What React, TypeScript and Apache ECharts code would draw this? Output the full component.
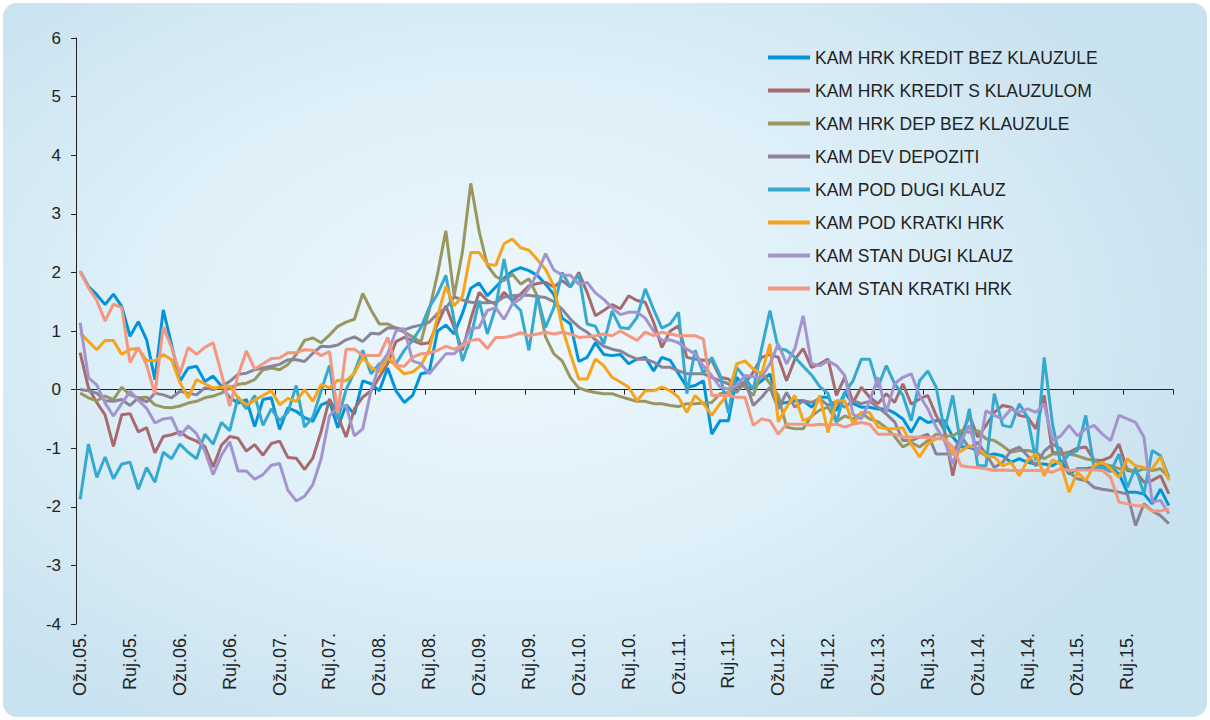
import React, { useEffect, useRef } from "react";
import * as echarts from "echarts";

const MONTHS = ["Sij", "Velj", "Ožu", "Tra", "Svi", "Lip", "Srp", "Kol", "Ruj", "Lis", "Stu", "Pro"];
const START_YEAR = 2005;
const START_MONTH = 2; // Ožujak
const N_MONTHS = 132;

const categories: string[] = [];
for (let k = 0; k < N_MONTHS; k++) {
  const m = (START_MONTH + k) % 12;
  const y = START_YEAR + Math.floor((START_MONTH + k) / 12);
  categories.push(`${MONTHS[m]}.${String(y % 100).padStart(2, "0")}.`);
}

const SERIES_NAMES = [
  "KAM HRK KREDIT BEZ KLAUZULE",
  "KAM HRK KREDIT S KLAUZULOM",
  "KAM HRK DEP BEZ KLAUZULE",
  "KAM DEV DEPOZITI",
  "KAM POD DUGI KLAUZ",
  "KAM POD KRATKI HRK",
  "KAM STAN DUGI KLAUZ",
  "KAM STAN KRATKI HRK",
];

const kreditBez = [
  2.02, 1.76, 1.62, 1.45, 1.63, 1.42, 0.91, 1.16, 0.85, 0.17,
  1.36, 0.77, 0.14, 0.37, 0.40, 0.14, 0.23, 0.06, -0.14, -0.23,
  -0.17, -0.63, -0.17, -0.14, -0.68, -0.31, -0.37, -0.48, -0.54, -0.26,
  -0.2, -0.65, -0.26, -0.42, 0.15, 0.1, -0.02, 0.37, -0.02, -0.22,
  -0.1, 0.27, 0.3, 1.0, 1.1, 0.95, 1.3, 1.73, 1.82, 1.6,
  1.75, 1.9, 2.02, 2.08, 2.03, 1.95, 1.8, 1.62, 1.22, 1.12,
  0.48, 0.55, 0.8, 0.6, 0.58, 0.6, 0.44, 0.52, 0.55, 0.32,
  0.55, 0.5, 0.27, 0.04, 0.07, 0.15, -0.76, -0.53, -0.53, 0.21,
  0.04, 0.04, 0.15, 0.27, -0.24, -0.22, -0.19, -0.19, -0.3, -0.13,
  -0.13, -0.36, -0.05, -0.24, -0.3, -0.3, -0.33, -0.33, -0.4, -0.5,
  -0.73, -0.47, -0.56, -0.53, -0.53, -0.81, -0.98, -0.98, -1.04, -1.13,
  -1.1, -1.13, -1.24, -1.18, -1.24, -1.27, -1.27, -1.3, -1.21, -1.44,
  -1.35, -1.35, -1.33, -1.3, -1.33, -1.44, -1.75, -1.75, -1.78, -1.95,
  -1.7, -1.98,
];

const kreditS = [
  0.63, 0.03, -0.22, -0.43, -0.97, -0.43, -0.41, -0.72, -0.65, -1.08,
  -0.8, -0.77, -0.72, -0.82, -0.88, -0.97, -1.32, -0.95, -0.8, -0.83,
  -1.05, -0.94, -1.12, -0.92, -0.88, -1.16, -1.17, -1.36, -1.17, -0.71,
  -0.16, -0.45, -0.81, -0.33, -0.13, -0.02, 0.21, 0.44, 0.82, 0.89,
  0.84, 0.78, 0.8, 1.12, 1.43, 1.06, 0.67, 1.2, 1.66, 1.52,
  1.46, 1.66, 1.52, 1.63, 1.77, 1.81, 1.83, 1.75, 1.86, 1.75,
  2.0, 1.66, 1.26, 1.35, 1.45, 1.38, 1.6, 1.52, 1.49, 1.15,
  0.72, 1.0, 1.09, 0.55, 0.52, 0.5, 0.5, 0.21, 0.18, 0.04,
  0.1, 0.3, 0.55, 0.6, 0.55, 0.15, 0.52, 0.7, 0.38, 0.44,
  0.52, -0.1, 0.21, -0.22, 0.04, -0.13, -0.24, -0.07, -0.22, 0.1,
  -0.25, -0.16, -0.1, -0.44, -0.7, -1.47, -0.79, -0.44, -0.81, -0.61,
  -0.39, -0.27, -0.3, -0.44, -0.47, -0.67, -0.1, -1.07, -1.1, -1.07,
  -1.0, -0.98, -1.2, -1.21, -1.15, -0.93, -1.38, -1.4, -1.58, -1.55,
  -1.47, -1.78,
];

const depBez = [
  -0.06, -0.14, -0.19, -0.11, -0.17, 0.04, -0.09, -0.14, -0.13, -0.26,
  -0.3, -0.31, -0.28, -0.23, -0.2, -0.14, -0.11, -0.06, 0.03, 0.09,
  0.11, 0.17, 0.34, 0.37, 0.34, 0.43, 0.6, 0.84, 0.88, 0.8,
  0.93, 1.08, 1.15, 1.2, 1.64, 1.36, 1.12, 1.12, 1.05, 0.98,
  0.9, 0.81, 1.35, 1.97, 2.71, 1.6, 2.35, 3.52, 2.71, 2.12,
  1.93, 1.86, 1.97, 1.8, 1.89, 1.6, 0.9, 0.61, 0.49, 0.2,
  0.03, -0.02, -0.05, -0.07, -0.07, -0.12, -0.16, -0.2, -0.2, -0.24,
  -0.24, -0.27, -0.29, -0.24, -0.24, -0.23, -0.22, -0.07, -0.05, 0.1,
  0.05, -0.1, 0.3, 0.1, -0.1, -0.64, -0.67, -0.67, -0.45, -0.35,
  -0.3, -0.55, -0.45, -0.5, -0.4, -0.5, -0.55, -0.65, -0.8, -0.98,
  -0.9, -0.98, -0.87, -0.76, -0.79, -0.79, -0.7, -0.73, -0.7, -0.84,
  -0.87, -0.96, -1.07, -1.04, -1.04, -1.07, -1.18, -1.1, -1.1, -1.1,
  -1.13, -1.18, -1.21, -1.27, -1.3, -1.35, -1.35, -1.41, -1.35, -1.38,
  -1.35, -1.5,
];

const devDepoziti = [
  0, -0.02, -0.06, -0.19, -0.2, -0.17, -0.27, -0.14, -0.21, -0.06,
  -0.09, -0.14, -0.03, -0.06, -0.09, 0.03, 0, 0.06, 0.14, 0.26,
  0.28, 0.34, 0.37, 0.4, 0.43, 0.51, 0.51, 0.48, 0.62, 0.74,
  0.73, 0.76, 0.85, 0.9, 0.82, 0.96, 0.95, 1.05, 1.05, 1.02,
  1.07, 1.1, 1.15, 1.3, 1.39, 1.58, 1.53, 1.49, 1.48, 1.48,
  1.49, 1.58, 1.6, 1.61, 1.61, 1.59, 1.57, 1.5, 1.37, 1.2,
  1.07, 0.98, 0.85, 0.74, 0.69, 0.66, 0.58, 0.52, 0.52, 0.47,
  0.38, 0.38, 0.32, 0.27, 0.27, 0.27, 0.21, 0.15, 0.1, -0.05,
  0.15, -0.27, -0.13, 0.04, -0.33, -0.05, -0.3, -0.19, -0.22, -0.16,
  -0.27, -0.2, -0.3, -0.19, -0.24, -0.2, -0.3, -0.42, -0.55, -0.87,
  -0.87, -0.81, -0.76, -1.1, -1.1, -1.1, -0.8, -1.0, -0.9, -1.1,
  -1.33, -1.24, -1.04, -0.98, -1.13, -1.3, -1.05, -0.93, -1.01, -1.41,
  -1.52, -1.55, -1.67, -1.7, -1.72, -1.75, -1.78, -2.32, -1.95, -2.07,
  -2.15, -2.29,
];

const podDugi = [
  -1.87, -0.93, -1.5, -1.15, -1.52, -1.27, -1.24, -1.7, -1.33, -1.58,
  -1.07, -1.18, -0.93, -1.07, -1.18, -0.76, -0.93, -0.56, -0.7, -0.13,
  -0.33, -0.1, -0.61, -0.33, -0.53, -0.39, 0.07, -0.64, -0.47, -0.02,
  0.41, -0.51, 0.0, 0.3, 0.67, 0.27, 0.44, 0.5, 0.44, 0.67,
  0.84, 1.06, 1.4, 1.63, 1.95, 1.18, 0.49, 0.89, 1.52, 0.95,
  1.4, 2.23, 1.49, 1.35, 0.67, 1.6, 1.06, 1.4, 2.0, 1.75,
  1.97, 1.12, 1.08, 0.78, 1.34, 1.06, 1.04, 1.23, 1.72, 1.37,
  1.05, 1.12, 1.32, -0.07, 0.67, 0.27, 0.55, 0.25, -0.4, 0.38,
  0.2, 0.0, 0.7, 1.35, 0.7, 0.67, 0.55, 0.4, 0.25, 0.05,
  -0.07, -0.56, -0.05, 0.15, 0.52, 0.52, 0.04, 0.41, 0.1, -0.1,
  -0.53, 0.15, 0.32, 0.04, -0.7, -0.1, -0.98, -0.33, -1.3, -1.3,
  -0.07, -0.61, -0.64, -0.24, -0.47, -1.21, 0.55, -0.59, -1.27, -1.1,
  -1.04, -0.44, -1.33, -1.33, -1.4, -1.1, -1.67, -1.33, -1.78, -1.04,
  -1.13, -1.5,
];

const podKratki = [
  0.97, 0.82, 0.68, 0.84, 0.84, 0.6, 0.69, 0.7, 0.5, 0.49,
  0.6, 0.51, 0.12, -0.14, 0.17, 0.1, 0.03, 0.03, 0.06, -0.14,
  -0.26, -0.18, -0.1, -0.02, -0.26, -0.15, -0.2, 0, -0.2, 0.09,
  0.03, 0.16, 0.15, 0.28, 0.55, 0.38, 0.3, 0.55, 0.4, 0.27,
  0.3, 0.41, 0.68, 1.25, 1.76, 1.43, 1.59, 2.34, 2.34, 2.14,
  2.12, 2.49, 2.57, 2.42, 2.38, 2.22, 2.05, 1.77, 1.06, 0.6,
  0.18, 0.18, 0.52, 0.41, 0.21, 0.13, 0.04, -0.19, -0.02, -0.02,
  0.04, -0.02, -0.13, -0.39, -0.1, -0.24, -0.44, -0.24, -0.07, 0.44,
  0.49, 0.35, 0.27, 0.78, -0.55, -0.3, -0.1, -0.53, -0.47, -0.1,
  -0.73, -0.19, -0.19, -0.59, -0.39, -0.39, -0.64, -0.67, -0.67, -0.65,
  -0.93, -1.15, -0.93, -0.84, -0.84, -1.1, -1.05, -0.96, -1.0, -1.13,
  -1.15, -1.3, -1.24, -1.47, -1.21, -1.1, -1.47, -1.2, -1.27, -1.75,
  -1.41, -1.55, -1.3, -1.24, -1.35, -1.5, -1.18, -1.3, -1.33, -1.35,
  -1.15, -1.55,
];

const stanDugi = [
  1.14, 0.2, 0.08, -0.23, -0.45, -0.24, -0.03, -0.18, -0.32, -0.57,
  -0.5, -0.48, -0.79, -0.62, -0.75, -1.05, -1.45, -1.12, -0.89, -1.39,
  -1.39, -1.53, -1.45, -1.29, -1.26, -1.72, -1.9, -1.82, -1.62, -1.18,
  -0.45, -0.3, -0.27, -0.79, -0.67, -0.02, 0.41, 0.61, 1.0, 1.04,
  0.49, 0.44, 0.27, 0.44, 0.61, 0.61, 0.75, 1.04, 1.06, 1.35,
  1.4, 1.2, 1.46, 1.55, 1.73, 1.98, 2.32, 2.04, 1.95, 1.95,
  1.8, 1.83, 1.65, 1.54, 1.4, 1.28, 1.32, 1.32, 1.22, 1.0,
  0.84, 0.85, 0.8, 0.69, 0.61, 0.4, 0.24, 0.04, 0.01, 0.07,
  0.24, 0.22, 0.21, 0.44, 0.78, 0.44, 0.7, 1.26, 0.44, 0.41,
  0.49, 0.41, 0.24, -0.42, -0.5, -0.2, 0.21, -0.39, 0.1, 0.21,
  0.27, -0.1, -0.33, -0.64, -0.87, -1.27, -0.87, -0.61, -1.13, -0.36,
  -0.44, -0.5, -0.33, -0.39, -0.33, -0.39, -0.24, -0.87, -0.79, -0.61,
  -0.79, -0.67, -0.61, -0.76, -0.87, -0.44, -0.5, -0.56, -0.81, -1.92,
  -1.89, -2.12,
];

const stanKratki = [
  2.02, 1.74, 1.52, 1.17, 1.46, 1.4, 0.46, 0.72, 0.42, -0.08,
  1.07, 0.72, 0.27, 0.72, 0.6, 0.72, 0.8, 0.27, -0.28, 0.24,
  0.66, 0.35, 0.44, 0.53, 0.54, 0.63, 0.63, 0.68, 0.67, 0.58,
  0.65, -0.41, 0.69, 0.69, 0.58, 0.58, 0.58, 0.89, 0.41, 0.4,
  0.55, 0.61, 0.62, 0.67, 0.74, 0.69, 0.75, 0.84, 0.86, 0.7,
  0.89, 0.89, 0.92, 0.97, 0.92, 0.95, 0.98, 0.95, 0.98, 0.95,
  0.89, 0.9, 0.92, 0.95, 0.92, 1.0, 0.92, 0.84, 0.98, 0.92,
  0.98, 0.95, 0.92, 0.92, 0.92, 0.86, -0.1, -0.1, -0.1, -0.13,
  -0.13, -0.61, -0.5, -0.53, -0.76, -0.59, -0.59, -0.59, -0.61, -0.59,
  -0.61, -0.59, -0.64, -0.59, -0.56, -0.59, -0.76, -0.76, -0.76, -0.81,
  -0.81, -0.81, -0.82, -0.83, -0.84, -0.98, -1.3, -1.32, -1.33, -1.35,
  -1.38, -1.37, -1.38, -1.38, -1.38, -1.38, -1.38, -1.41, -1.35, -1.38,
  -1.37, -1.37, -1.37, -1.38, -1.5, -1.92, -1.95, -1.98, -1.98, -2.07,
  -2.07, -2.04,
];

const SERIES_DATA = [kreditBez, kreditS, depBez, devDepoziti, podDugi, podKratki, stanDugi, stanKratki];
const COLORS = ["#0095DA", "#A66B6E", "#9A9660", "#8B8497", "#36A9CE", "#F7A41A", "#A394CE", "#F5967E"];

const FONT = "'Liberation Sans', Arial, Helvetica, sans-serif";

export default function App() {
  const ref = useRef<HTMLDivElement>(null);
  useEffect(() => {
    if (!ref.current) return;
    const chart = echarts.init(ref.current, undefined, { renderer: "svg" });
    chart.setOption({
      animation: false,
      backgroundColor: "transparent",
      textStyle: { fontFamily: FONT },
      grid: { left: 76, right: 37, top: 38, bottom: 96, containLabel: false },
      legend: {
        orient: "vertical",
        left: 768,
        top: 48,
        padding: 0,
        itemWidth: 42,
        itemHeight: 4,
        itemGap: 14,
        icon: "rect",
        textStyle: { fontSize: 17.5, color: "#222", fontFamily: FONT, lineHeight: 19 },
        data: SERIES_NAMES,
      },
      xAxis: [
        {
          type: "category",
          data: categories,
          boundaryGap: true,
          position: "bottom",
          axisLine: { show: false, onZero: false },
          axisTick: { show: false },
          splitLine: { show: false },
          axisLabel: {
            interval: 5,
            rotate: 90,
            fontSize: 18,
            color: "#222",
            margin: 9,
            fontFamily: FONT,
          },
        },
        {
          type: "category",
          data: categories,
          boundaryGap: true,
          position: "bottom",
          axisLine: { show: true, onZero: true, lineStyle: { color: "#222", width: 1 } },
          axisTick: { show: true, interval: 5, length: 5, lineStyle: { color: "#222" } },
          axisLabel: { show: false },
          splitLine: { show: false },
        },
      ],
      yAxis: {
        type: "value",
        min: -4,
        max: 6,
        interval: 1,
        axisLine: { show: true, lineStyle: { color: "#222", width: 1 } },
        axisTick: { show: true, length: 5, lineStyle: { color: "#222" } },
        splitLine: { show: false },
        axisLabel: { fontSize: 17, color: "#222", margin: 15, fontFamily: FONT },
      },
      series: SERIES_NAMES.map((name, i) => ({
        name,
        type: "line",
        xAxisIndex: 0,
        data: SERIES_DATA[i],
        symbol: "none",
        showSymbol: false,
        color: COLORS[i],
        lineStyle: { color: COLORS[i], width: 3 },
        itemStyle: { color: COLORS[i] },
      })),
    });
    return () => chart.dispose();
  }, []);

  return (
    <div style={{ position: "absolute", left: 0, top: 0, width: 1210, height: 720, background: "#ffffff" }}>
      <div
        style={{
          position: "absolute",
          left: 3,
          top: 3,
          width: 1204,
          height: 714,
          borderRadius: 14,
          background:
            "radial-gradient(ellipse 60% 65% at 42% 45%, #EEF8FD 0%, #DDEFF8 55%, #C9E2EF 100%)",
        }}
      />
      <div ref={ref} style={{ position: "absolute", left: 0, top: 0, width: 1210, height: 720 }} />
    </div>
  );
}
